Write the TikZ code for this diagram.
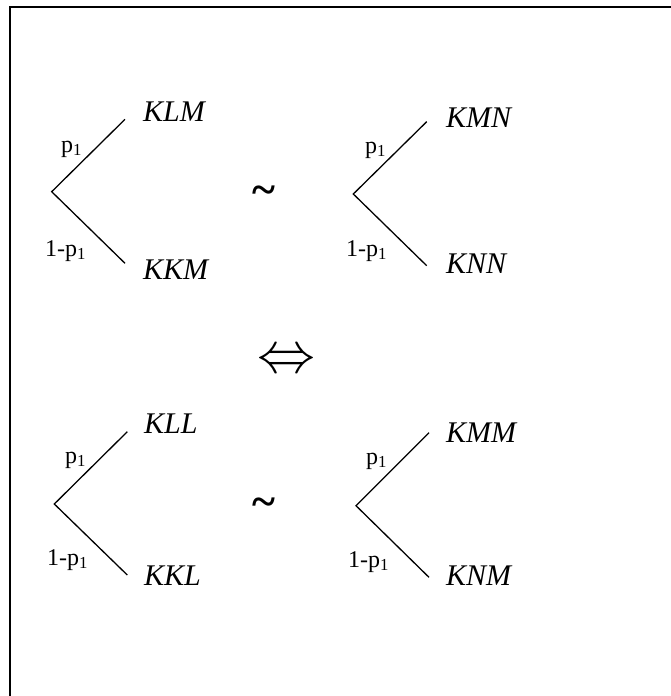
\RequirePackage{fix-cm}
\documentclass[tikz,border=0pt]{standalone}
\usepackage{fontspec}
\setmainfont{Liberation Serif}
\begin{document}
\begin{tikzpicture}[x=1pt,y=-1pt,
  branch/.style={line width=1.3pt},
  outcome/.style={anchor=base west,inner sep=0pt,font=\fontsize{30}{30}\selectfont\itshape},
  prob/.style={anchor=base west,inner sep=0pt,font=\fontsize{24}{24}\selectfont},
  indiff/.style={anchor=base,inner sep=0pt,font=\fontsize{44}{44}\selectfont},
  frame/.style={line width=2pt}]
\useasboundingbox (0,0) rectangle (670,696);
% frame (open on the right and bottom)
\coordinate (fr1) at (672,7);
\coordinate (fr2) at (9.5,7);
\coordinate (fr3) at (9.5,698);
\draw[frame] (fr1) -- (fr2) -- (fr3);

% tree A
\coordinate (a0) at (51.7,191.7);
\coordinate (a1) at (125,119.3);
\coordinate (a2) at (125,263.3);
\draw[branch] (a1) -- (a0) -- (a2);
\node[outcome] (aU) at (143,121) {KLM};
\node[outcome] (aL) at (143,279) {KKM};
\node[prob] (ap) at (61,152) {p\textsubscript{1}};
\node[prob] (aq) at (45,256) {1-p\textsubscript{1}};

% tree B
\coordinate (b0) at (353.3,194);
\coordinate (b1) at (426.7,121.7);
\coordinate (b2) at (426.7,265.7);
\draw[branch] (b1) -- (b0) -- (b2);
\node[outcome] (bU) at (446,127) {KMN};
\node[outcome] (bL) at (446,273) {KNN};
\node[prob] (bp) at (365,153) {p\textsubscript{1}};
\node[prob] (bq) at (346,256) {1-p\textsubscript{1}};

% tree C
\coordinate (c0) at (54.3,504);
\coordinate (c1) at (127.3,431.7);
\coordinate (c2) at (127.3,575);
\draw[branch] (c1) -- (c0) -- (c2);
\node[outcome] (cU) at (144,433) {KLL};
\node[outcome] (cL) at (144,585) {KKL};
\node[prob] (cp) at (65,463) {p\textsubscript{1}};
\node[prob] (cq) at (47,565) {1-p\textsubscript{1}};

% tree D
\coordinate (d0) at (356,505.7);
\coordinate (d1) at (429,432.7);
\coordinate (d2) at (429,577.3);
\draw[branch] (d1) -- (d0) -- (d2);
\node[outcome] (dU) at (446,442) {KMM};
\node[outcome] (dL) at (446,585) {KNM};
\node[prob] (dp) at (366,464) {p\textsubscript{1}};
\node[prob] (dq) at (348,567) {1-p\textsubscript{1}};

% indifference signs and equivalence
\node[indiff] (sim1) at (264,204) {\textbf{\char"7E}};
\node[indiff] (sim2) at (264,516) {\textbf{\char"7E}};
\node[anchor=base,inner sep=0pt,font=\fontsize{58}{58}\selectfont] (iff) at (286,372) {$\Leftrightarrow$};
\end{tikzpicture}
\end{document}
